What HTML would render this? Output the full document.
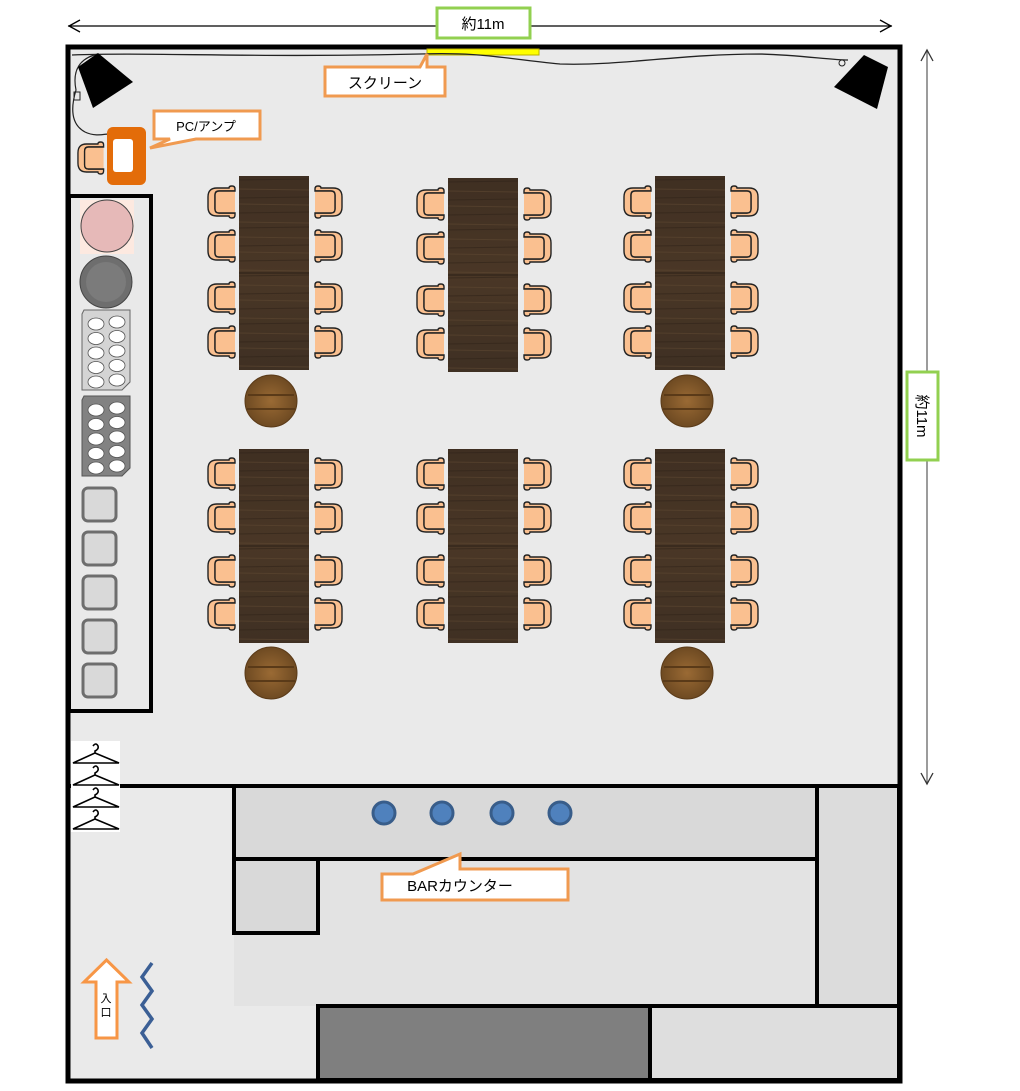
<!DOCTYPE html>
<html><head><meta charset="utf-8"><style>
html,body{margin:0;padding:0;background:#fff;}
svg{display:block;}
text{font-family:"Liberation Sans","Noto Sans CJK JP",sans-serif;}
</style></head><body>
<svg id="s" width="1020" height="1091" viewBox="0 0 1020 1091" xmlns="http://www.w3.org/2000/svg">
<defs>
<g id="chairL">
<path d="M25,1 Q22,1 22,3 L10,3 Q1,3 1,12 L1,22 Q1,31 10,31 L22,31 Q22,33 25,33 Q28,33 28,30 L28,28 L12,28 Q8,28 8,24 L8,10 Q8,6 12,6 L28,6 L28,4 Q28,1 25,1 Z" fill="#fac090" stroke="#222" stroke-width="1.4"/>
<path d="M28,6 L12,6 Q8,6 8,10 L8,24 Q8,28 12,28 L28,28 Z" fill="#fac090" stroke="none"/>
<path d="M28,6 L12,6 Q8,6 8,10 L8,24 Q8,28 12,28 L28,28" fill="none" stroke="#222" stroke-width="1.4"/>
</g>
<linearGradient id="wood" x1="0" y1="0" x2="0" y2="1">
<stop offset="0" stop-color="#3f2f22"/><stop offset="0.5" stop-color="#4a3726"/><stop offset="1" stop-color="#3f3023"/>
</linearGradient>
<radialGradient id="rt" cx="0.5" cy="0.5" r="0.5">
<stop offset="0" stop-color="#9a6a34"/><stop offset="1" stop-color="#6e4a22"/>
</radialGradient>
</defs>
<line x1="68" y1="26" x2="892" y2="26" stroke="#000" stroke-width="1.3"/>
<polyline points="80,20 69,26 80,32" fill="none" stroke="#000" stroke-width="1.3"/>
<polyline points="880,20 891,26 880,32" fill="none" stroke="#000" stroke-width="1.3"/>
<rect x="437" y="8" width="93" height="30" fill="#fff" stroke="#92d050" stroke-width="3"/>
<text x="483" y="29" font-size="15" text-anchor="middle">約11m</text>
<line x1="927" y1="50" x2="927" y2="784" stroke="#666" stroke-width="1.3"/>
<polyline points="921,61 927,50 933,61" fill="none" stroke="#333" stroke-width="1.3"/>
<polyline points="921,773 927,784 933,773" fill="none" stroke="#333" stroke-width="1.3"/>
<rect x="907" y="372" width="31" height="88" fill="#fff" stroke="#92d050" stroke-width="3"/>
<text x="0" y="0" font-size="15" text-anchor="middle" transform="translate(917,416) rotate(90)">約11m</text>
<rect x="68" y="47" width="832" height="1034" fill="#eaeaea" stroke="#000" stroke-width="5"/>
<rect x="234" y="859" width="583" height="147" fill="#e3e3e3"/>
<rect x="234" y="786" width="583" height="73" fill="#d9d9d9" stroke="#000" stroke-width="4"/>
<rect x="817" y="786" width="82" height="220" fill="#dcdcdc" stroke="#000" stroke-width="4"/>
<rect x="234" y="859" width="84" height="74" fill="#d9d9d9" stroke="#000" stroke-width="4"/>
<rect x="318" y="1006" width="332" height="74" fill="#7f7f7f" stroke="#000" stroke-width="4"/>
<rect x="650" y="1006" width="249" height="74" fill="#dedede" stroke="#000" stroke-width="4"/>
<line x1="68" y1="786" x2="900" y2="786" stroke="#000" stroke-width="4"/>
<line x1="68" y1="47" x2="900" y2="47" stroke="#000" stroke-width="5"/>
<g fill="#4f81bd" stroke="#385d8a" stroke-width="3">
<circle cx="384" cy="813" r="11"/><circle cx="442" cy="813" r="11"/><circle cx="502" cy="813" r="11"/><circle cx="560" cy="813" r="11"/>
</g>
<path d="M382,874 L413,874 L460,854 L460,869 L568,869 L568,900 L382,900 Z" fill="#fff" stroke="#f09a50" stroke-width="3"/>
<text x="460" y="891" font-size="15" text-anchor="middle">BARカウンター</text>
<rect x="427" y="49" width="112" height="6" fill="#ffff00" stroke="#bbb000" stroke-width="1"/>
<path d="M72,55 C150,52 250,58 420,54 C480,52 500,58 560,64 C620,66 680,54 760,54 C800,55 830,60 848,60" fill="none" stroke="#222" stroke-width="1.3"/>
<path d="M98,54 C80,58 72,70 76,90 C70,110 72,125 85,132 C95,137 105,134 108,134" fill="none" stroke="#222" stroke-width="1.2"/>
<rect x="74" y="92" width="6" height="8" fill="none" stroke="#222" stroke-width="1"/>
<circle cx="842" cy="63" r="3" fill="none" stroke="#222" stroke-width="1"/>
<path d="M325,67 L420,67 L427,54 L427,67 L445,67 L445,96 L325,96 Z" fill="#fff" stroke="#f09a50" stroke-width="3"/>
<text x="385" y="88" font-size="15" text-anchor="middle">スクリーン</text>
<polygon points="98,53 133,82 93,108 78,67" fill="#000"/>
<polygon points="864,55 888,67 877,109 834,87" fill="#000"/>
<path d="M154,111 L260,111 L260,139 L196,139 L150,148 L170,139 L154,139 Z" fill="#fff" stroke="#f09a50" stroke-width="3"/>
<text x="206" y="131" font-size="13" text-anchor="middle">PC/アンプ</text>
<rect x="107" y="127" width="39" height="58" rx="6" fill="#e36c09"/>
<rect x="113" y="139" width="20" height="33" rx="3" fill="#fff"/>
<use href="#chairL" transform="translate(77,141) scale(0.95,1)"/>
<rect x="69" y="196" width="82" height="515" fill="#e9e9e9" stroke="#000" stroke-width="4"/>
<rect x="80" y="200" width="54" height="54" fill="#fde9e0"/>
<circle cx="107" cy="226" r="26" fill="#e6b9b8" stroke="#444" stroke-width="1"/>
<circle cx="106" cy="282" r="26" fill="#6e6e6e" stroke="#444" stroke-width="1"/>
<circle cx="106" cy="282" r="20" fill="#888" opacity="0.5"/>
<polygon points="84,310 130,310 130,382 122,390 82,390 82,314" fill="#d4d4d4" stroke="#666" stroke-width="1"/>
<polygon points="84,396 130,396 130,468 122,476 82,476 82,400" fill="#828282" stroke="#555" stroke-width="1"/>
<g id="ovals" fill="#fff" stroke="#555" stroke-width="0.8"></g>
<g fill="#d9d9d9" stroke="#6e6e6e" stroke-width="3">
<rect x="83" y="488" width="33" height="33" rx="5"/><rect x="83" y="532" width="33" height="33" rx="5"/><rect x="83" y="576" width="33" height="33" rx="5"/><rect x="83" y="620" width="33" height="33" rx="5"/><rect x="83" y="664" width="33" height="33" rx="5"/>
</g>
<rect x="71" y="741" width="49" height="91" fill="#fff"/>
<g id="hangers" fill="none" stroke="#000" stroke-width="1.6"></g>
<path d="M96,1038 L117,1038 L117,982 L129,982 L106.5,960 L84,982 L96,982 Z" fill="#fff" stroke="#f79646" stroke-width="3"/>
<text x="106" y="1002" font-size="11" text-anchor="middle">入</text>
<text x="106" y="1016" font-size="11" text-anchor="middle">口</text>
<polyline points="152,963 142,977 152,991 142,1005 152,1019 142,1033 152,1048" fill="none" stroke="#3b5f95" stroke-width="3.5"/>
<g id="furn"></g>
</svg>
<script>
var NS="http://www.w3.org/2000/svg";
function el(t,a,p){var e=document.createElementNS(NS,t);for(var k in a)e.setAttribute(k,a[k]);(p||document.getElementById('furn')).appendChild(e);return e;}
var cols=[239,448,655];
var rows=[[176,[202,246,298,342]],[449,[474,518,571,614]]];
cols.forEach(function(x,ci){
 rows.forEach(function(r,ri){
  var y=r[0]; if(ci==1&&ri==0) y=178;
  el('rect',{x:x,y:y,width:70,height:194,fill:'url(#wood)'});
  for(var i=0;i<24;i++){var yy=y+4+i*8+(i%3);el('line',{x1:x,y1:yy,x2:x+70,y2:yy+((i%2)?1:-1),stroke:(i%2)?'#5e4832':'#31241a','stroke-width':1,opacity:0.6});}
  el('line',{x1:x,y1:y+97,x2:x+70,y2:y+97,stroke:'#2a1f16','stroke-width':1});
  r[1].forEach(function(cy){
   var yc=cy+(ci==1&&ri==0?2:0);
   el('use',{href:'#chairL',transform:'translate('+(x-32)+','+(yc-17)+')'});
   el('use',{href:'#chairL',transform:'translate('+(x+104)+','+(yc-17)+') scale(-1,1)'});
  });
  if(ci!=1){var cy2=ri==0?401:673;
   el('circle',{cx:x+32,cy:cy2,r:26,fill:'url(#rt)',stroke:'#5a3a18','stroke-width':1});
   el('line',{x1:x+9,y1:cy2-6,x2:x+55,y2:cy2-6,stroke:'#5a3a18','stroke-width':2});
   el('line',{x1:x+8,y1:cy2+8,x2:x+56,y2:cy2+8,stroke:'#5a3a18','stroke-width':2});
  }
 });
});
var ov=document.getElementById('ovals');
[[315],[401]].forEach(function(b){for(var i=0;i<5;i++){el('ellipse',{cx:96,cy:b[0]+9+i*14.5,rx:8,ry:6},ov);el('ellipse',{cx:117,cy:b[0]+7+i*14.5,rx:8,ry:6},ov);}});
var hg=document.getElementById('hangers');
[742,764,786,808].forEach(function(y){
 el('path',{d:'M93,'+(y+4)+' q3,-4 5,0 q1,3 -3,5 L95,'+(y+11)+' L73,'+(y+21)+' L119,'+(y+21)+' L95,'+(y+11)},hg);
});
</script>
</body></html>
